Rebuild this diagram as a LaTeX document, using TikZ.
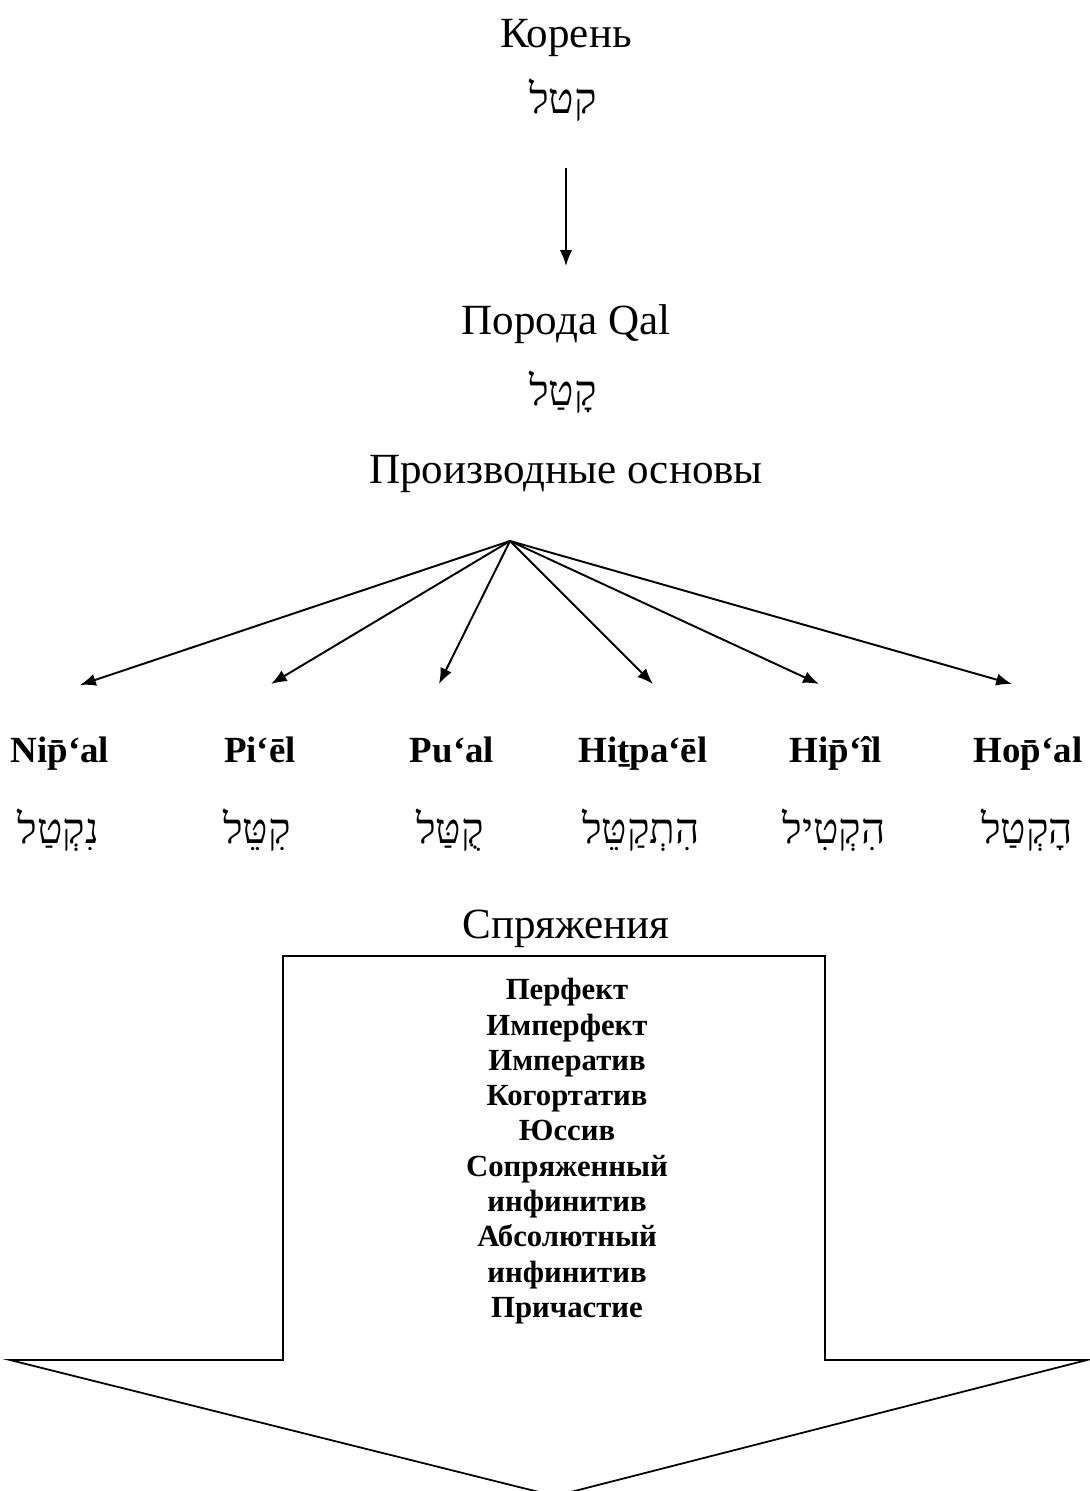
\documentclass[tikz,border=0pt]{standalone}
\usepackage{fontspec}
\setmainfont{Liberation Serif}
\newfontfamily\hebfont[Script=Hebrew]{Liberation Serif}
\TeXXeTstate=1
\usetikzlibrary{arrows.meta}
\newcommand{\hebw}[1]{{\hebfont\beginR #1\endR}}

\tikzset{
  headline/.style={font=\fontsize{24.5}{28}\selectfont, anchor=base, inner sep=0pt},
  hebword/.style={font=\fontsize{24}{28}\selectfont, anchor=base, inner sep=0pt},
  stemname/.style={font=\fontsize{21}{25}\selectfont\bfseries, anchor=base, inner sep=0pt},
  fanarrow/.style={->,>={Latex[length=9pt,width=7pt]},line width=1.1pt}
}

\begin{document}
\begin{tikzpicture}[x=0.02cm,y=-0.02cm]
\useasboundingbox (0,0) rectangle (1089,1491);

\node[headline] (koren) at (566,47) {Корень};
\node[hebword] (rootword) at (563,113) {\hebw{קטל}};
\coordinate (downtop) at (566,168);
\coordinate (downtip) at (566,266);
\draw[fanarrow,line width=0.9pt] (downtop) -- (downtip);

\node[headline] (qal) at (566,334) {Порода Qal};
\node[hebword] (qalword) at (563,405) {\hebw{קָטַל}};
\node[headline] (derived) at (566,483) {Производные основы};

% fan of arrows
\coordinate (fan) at (510,541);
\coordinate (tipA) at (80,685);
\coordinate (tipB) at (271,684);
\coordinate (tipC) at (439,684);
\coordinate (tipD) at (653,684);
\coordinate (tipE) at (819,684);
\coordinate (tipF) at (1012,684);
\draw[fanarrow] (fan) -- (tipA);
\draw[fanarrow] (fan) -- (tipB);
\draw[fanarrow] (fan) -- (tipC);
\draw[fanarrow] (fan) -- (tipD);
\draw[fanarrow] (fan) -- (tipE);
\draw[fanarrow] (fan) -- (tipF);

\node[stemname] (nipal) at (60,762) {Nip̄‘al};
\node[stemname] (piel) at (260,762) {Pi‘ēl};
\node[stemname] (pual) at (452,762) {Pu‘al};
\node[stemname] (hitpael) at (643,762) {Hiṯpa‘ēl};
\node[stemname] (hiphil) at (836,762) {Hip̄‘îl};
\node[stemname] (hophal) at (1028,762) {Hop̄‘al};

\node[hebword] (nipalword) at (58,843) {\hebw{נִקְטַל}};
\node[hebword] (pielword) at (257,843) {\hebw{קִטֵּל}};
\node[hebword] (pualword) at (450,843) {\hebw{קֻטַּל}};
\node[hebword] (hitpaelword) at (641,843) {\hebw{הִתְקַטֵּל}};
\node[hebword] (hiphilword) at (834,843) {\hebw{הִקְטִיל}};
\node[hebword] (hophalword) at (1027,843) {\hebw{הָקְטַל}};

% big block arrow
\node[headline] (conj) at (566,938) {Спряжения};
\draw[line width=1pt] (283,956) -- (825,956) -- (825,1360) -- (1087,1360)
  -- (555,1496) -- (10,1360) -- (283,1360) -- cycle;
\node[font=\fontsize{17.5}{20.1}\selectfont\bfseries, align=center, anchor=north, inner sep=0pt] (forms) at (567,978)
  {Перфект\\Имперфект\\Императив\\Когортатив\\Юссив\\Сопряженный\\инфинитив\\Абсолютный\\инфинитив\\Причастие};

\end{tikzpicture}
\end{document}
